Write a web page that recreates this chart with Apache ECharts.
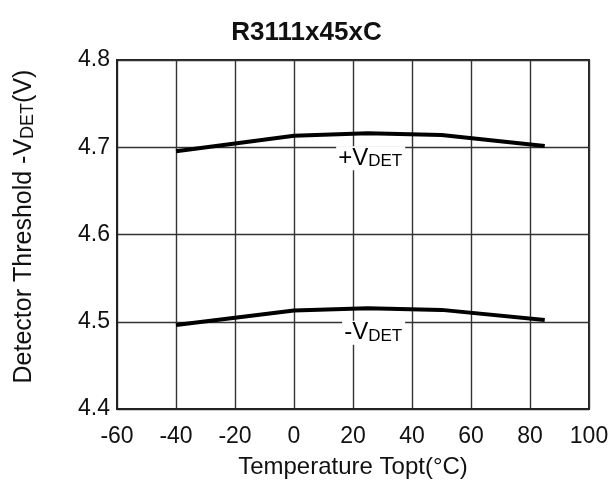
<!DOCTYPE html>
<html><head><meta charset="utf-8">
<script src="https://cdn.jsdelivr.net/npm/echarts@6/dist/echarts.min.js"></script>
<style>html,body{margin:0;padding:0;background:#fff}#c{width:613px;height:480px}</style>
</head><body><div id="c"></div>
<script>
const temps = [-40, 0, 25, 50, 85];
const plusVdet = [4.6954, 4.7133, 4.716, 4.714, 4.7015];
const minusVdet = [4.4962, 4.5128, 4.5156, 4.5136, 4.502];
const xTicks = [-60, -40, -20, 0, 20, 40, 60, 80, 100];
const yTicks = [4.4, 4.5, 4.6, 4.7, 4.8];
const labelPoints = [
  { coord: [26, 4.7], text: '{a|+V}{b|DET}' },
  { coord: [27, 4.5], text: '{a|-V}{b|DET}' }
];
const font = 'Liberation Sans, Arial, sans-serif';
const chart = echarts.init(document.getElementById('c'));
const rich = {
  a: { fontSize: 24, fontFamily: font, color: '#000', verticalAlign: 'bottom', lineHeight: 24 },
  b: { fontSize: 17, fontFamily: font, color: '#000', verticalAlign: 'bottom', lineHeight: 24 }
};
const richName = {
  a: { fontSize: 25, fontFamily: font, color: '#111', verticalAlign: 'bottom', lineHeight: 25 },
  b: { fontSize: 18, fontFamily: font, color: '#111', verticalAlign: 'bottom', lineHeight: 25 }
};
chart.setOption({
  animation: false,
  backgroundColor: '#fff',
  title: {
    text: 'R3111x45xC', left: 'center', top: 15,
    textStyle: { fontSize: 26, fontWeight: 'bold', fontFamily: font, color: '#111' }
  },
  grid: { left: 117, right: 24, top: 60, bottom: 71, containLabel: false, outerBoundsMode: 'none', show: true, borderColor: '#222', borderWidth: 2, backgroundColor: 'transparent' },
  xAxis: {
    type: 'value', min: xTicks[0], max: xTicks[xTicks.length - 1], interval: 20,
    name: 'Temperature Topt(°C)', nameLocation: 'middle', nameGap: 46,
    nameTextStyle: { fontSize: 24, fontFamily: font, color: '#111' },
    axisLine: { show: true, onZero: false, lineStyle: { color: '#222', width: 2 } },
    axisTick: { show: false },
    axisLabel: { fontSize: 23, fontFamily: font, color: '#111', margin: 16 },
    splitLine: { show: true, lineStyle: { color: '#333', width: 1.4 } }
  },
  yAxis: {
    type: 'value', min: yTicks[0], max: yTicks[yTicks.length - 1], interval: 0.1,
    name: '{a|Detector Threshold -V}{b|DET}{a|(V)}', nameLocation: 'middle', nameGap: 80,
    nameTextStyle: { rich: richName, padding: [0, 0, 0, 16] },
    axisLine: { show: true, onZero: false, lineStyle: { color: '#222', width: 2 } },
    axisTick: { show: false },
    axisLabel: { fontSize: 23, fontFamily: font, color: '#111', margin: 7, formatter: v => v.toFixed(1) },
    splitLine: { show: true, lineStyle: { color: '#333', width: 1.4 } }
  },
  series: [
    { type: 'line', data: temps.map((t, i) => [t, plusVdet[i]]), symbol: 'none', lineStyle: { color: '#000', width: 4 }, z: 3 },
    { type: 'line', data: temps.map((t, i) => [t, minusVdet[i]]), symbol: 'none', lineStyle: { color: '#000', width: 4 }, z: 3 },
    {
      type: 'scatter', symbolSize: 0, z: 5,
      itemStyle: { opacity: 1 },
      emphasis: { disabled: true },
      data: labelPoints.map(p => ({ value: p.coord, label: { formatter: p.text } })),
      label: {
        show: true, position: 'inside', offset: [0, 11],
        backgroundColor: '#fff', padding: [0, 3, 0, 2], rich: rich
      }
    }
  ]
});
</script></body></html>
